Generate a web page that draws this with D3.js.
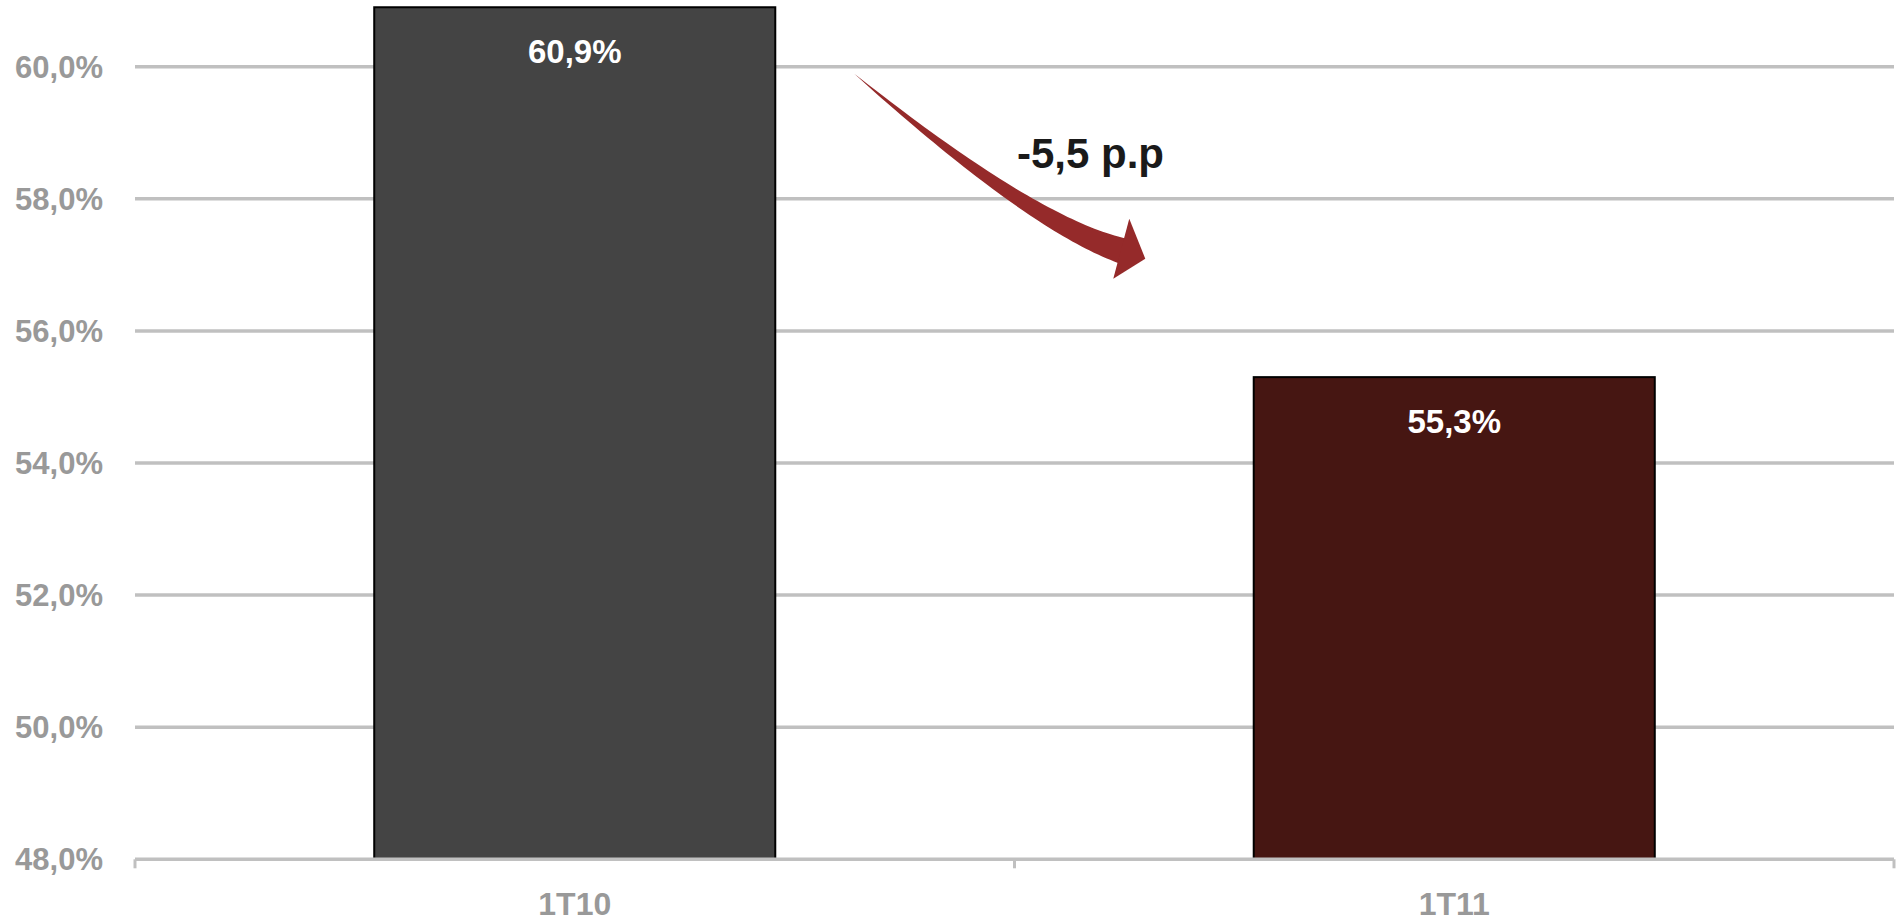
<!DOCTYPE html>
<html>
<head>
<meta charset="utf-8">
<script src="https://cdn.jsdelivr.net/npm/d3@7"></script>
<style>
  body { margin: 0; background: #fff; }
  svg text { font-family: Arial, "Liberation Sans", sans-serif; font-weight: bold; }
</style>
</head>
<body>
<div id="chart"></div>
<script>
// data
var periods = ["1T10", "1T11"];
var values = [60.9, 55.3];
var valueLabels = ["60,9%", "55,3%"];
var barColors = ["#444444", "#461612"];
var yTicks = [48, 50, 52, 54, 56, 58, 60];
var changeLabel = "-5,5 p.p";

var width = 1900, height = 923;

var svg = d3.select("#chart")
    .append("svg")
    .attr("width", width)
    .attr("height", height);

// scales
var x = d3.scaleBand()
    .domain(periods)
    .range([135, 1894])
    .paddingInner(0.544)
    .paddingOuter(0.272);

var y = d3.scaleLinear()
    .domain([48, 60])
    .range([859.3, 66.7]);

var fmt = function(d) { return d.toFixed(1).replace(".", ",") + "%"; };

// gridlines
svg.append("g")
    .selectAll("line")
    .data(yTicks.filter(function(d) { return d > 48; }))
    .enter()
    .append("line")
    .attr("x1", 135)
    .attr("x2", 1894)
    .attr("y1", function(d) { return y(d); })
    .attr("y2", function(d) { return y(d); })
    .style("stroke", "#c0c0c0")
    .style("stroke-width", 3.5);

// y axis labels
var yAxis = svg.append("g")
    .attr("transform", "translate(103,0)")
    .call(d3.axisLeft(y).tickValues(yTicks).tickSize(0).tickPadding(0).tickFormat(fmt));
yAxis.select(".domain").remove();
yAxis.selectAll("text")
    .attr("dy", "0.34em")
    .style("font-size", "31px")
    .style("fill", "#999999");

// bars
svg.selectAll(".bar")
    .data(values)
    .enter()
    .append("rect")
    .attr("class", "bar")
    .attr("x", function(d, i) { return x(periods[i]); })
    .attr("y", function(d) { return y(d); })
    .attr("width", x.bandwidth())
    .attr("height", function(d) { return y(48) - y(d); })
    .style("fill", function(d, i) { return barColors[i]; })
    .style("stroke", "#000")
    .style("stroke-width", 2);

// value labels inside bars
svg.selectAll(".vlabel")
    .data(values)
    .enter()
    .append("text")
    .attr("class", "vlabel")
    .attr("x", function(d, i) { return x(periods[i]) + x.bandwidth() / 2; })
    .attr("y", function(d) { return y(d) + 56; })
    .attr("text-anchor", "middle")
    .style("font-size", "33px")
    .style("fill", "#ffffff")
    .text(function(d, i) { return valueLabels[i]; });

// x axis: line + ticks at band edges
var edges = [135, 135 + (1894 - 135) / 2, 1894];
var xAxis = svg.append("g");
xAxis.append("line")
    .attr("x1", 135).attr("x2", 1894)
    .attr("y1", y(48)).attr("y2", y(48))
    .style("stroke", "#c0c0c0")
    .style("stroke-width", 3.5);
xAxis.selectAll(".tk")
    .data(edges)
    .enter()
    .append("line")
    .attr("class", "tk")
    .attr("x1", function(d) { return d; })
    .attr("x2", function(d) { return d; })
    .attr("y1", y(48))
    .attr("y2", y(48) + 9)
    .style("stroke", "#c0c0c0")
    .style("stroke-width", 3);

svg.selectAll(".xlabel")
    .data(periods)
    .enter()
    .append("text")
    .attr("class", "xlabel")
    .attr("x", function(d) { return x(d) + x.bandwidth() / 2; })
    .attr("y", 915)
    .attr("text-anchor", "middle")
    .style("font-size", "32px")
    .style("fill", "#999999")
    .text(function(d) { return d; });

// curved tapered arrow between the bars
var x0 = x(periods[0]) + x.bandwidth();
var p0 = [x0 + 79, y(60) + 7],
    p1 = [x0 + 260, y(60) + 160],
    p2 = [x0 + 350, y(60) + 185];
var tip = [x0 + 370, y(60) + 192],
    barbA = [x0 + 354, y(60) + 152],
    barbB = [x0 + 338, y(60) + 212];

function bez(t) {
    var a = (1 - t) * (1 - t), b = 2 * t * (1 - t), c = t * t;
    return [a * p0[0] + b * p1[0] + c * p2[0], a * p0[1] + b * p1[1] + c * p2[1]];
}
function bezD(t) {
    return [2 * (1 - t) * (p1[0] - p0[0]) + 2 * t * (p2[0] - p1[0]),
            2 * (1 - t) * (p1[1] - p0[1]) + 2 * t * (p2[1] - p1[1])];
}
var n = 50, upper = [], lower = [];
for (var i = 0; i <= n; i++) {
    var t = i / n, p = bez(t), dv = bezD(t);
    var len = Math.sqrt(dv[0] * dv[0] + dv[1] * dv[1]);
    var nx = -dv[1] / len, ny = dv[0] / len;
    var w = 13 * Math.pow(t, 0.9);
    upper.push([p[0] - nx * w, p[1] - ny * w]);
    lower.push([p[0] + nx * w, p[1] + ny * w]);
}
var shape = upper.concat(lower.reverse());
svg.append("path")
    .attr("d", d3.line()(shape) + "Z")
    .style("fill", "#952a2a");
svg.append("path")
    .attr("d", d3.line()([barbA, tip, barbB]) + "Z")
    .style("fill", "#952a2a");

// change annotation
svg.append("text")
    .attr("x", 1017)
    .attr("y", 168)
    .style("font-size", "42px")
    .style("fill", "#1a1a1a")
    .text(changeLabel);
</script>
</body>
</html>
